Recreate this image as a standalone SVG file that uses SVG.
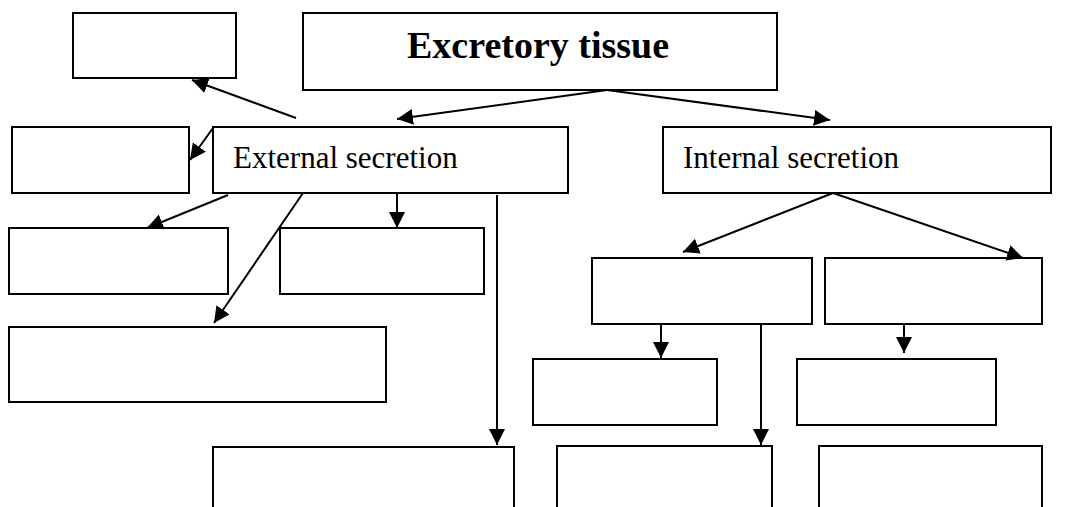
<svg xmlns="http://www.w3.org/2000/svg" width="1067" height="507" viewBox="0 0 1067 507">
<style>
.box{fill:#fff;stroke:#000;stroke-width:2}
.con{stroke:#000;stroke-width:2;fill:none;marker-end:url(#ah)}
.t{font-family:"Liberation Serif","Times New Roman",serif;fill:#000}
</style>
<defs>
<marker id="ah" markerUnits="userSpaceOnUse" markerWidth="18" markerHeight="18" refX="16" refY="8" orient="auto">
<path d="M0,0 L16,8 L0,16 z" fill="#000"/>
</marker>
</defs>
<rect width="1067" height="507" fill="#fff"/>
<g id="nodeA"><rect class="box" x="73" y="13" width="163" height="65"/></g>
<g id="title"><rect class="box" x="303" y="13" width="474" height="77"/><text class="t" x="407" y="58" font-size="38" font-weight="bold">Excretory tissue</text></g>
<g id="nodeB"><rect class="box" x="12" y="127" width="177" height="66"/></g>
<g id="external"><rect class="box" x="213" y="127" width="355" height="66"/><text class="t" x="233" y="168" font-size="31">External secretion</text></g>
<g id="internal"><rect class="box" x="663" y="127" width="388" height="66"/><text class="t" x="683" y="168" font-size="31">Internal secretion</text></g>
<g id="nodeC"><rect class="box" x="9" y="228" width="219" height="66"/></g>
<g id="nodeD"><rect class="box" x="280" y="228" width="204" height="66"/></g>
<g id="nodeE"><rect class="box" x="9" y="327" width="377" height="75"/></g>
<g id="nodeF"><rect class="box" x="213" y="447" width="301" height="80"/></g>
<g id="nodeG"><rect class="box" x="592" y="258" width="220" height="66"/></g>
<g id="nodeH"><rect class="box" x="825" y="258" width="217" height="66"/></g>
<g id="nodeI"><rect class="box" x="533" y="359" width="184" height="66"/></g>
<g id="nodeK"><rect class="box" x="797" y="359" width="199" height="66"/></g>
<g id="nodeJ"><rect class="box" x="557" y="446" width="215" height="80"/></g>
<g id="nodeL"><rect class="box" x="819" y="446" width="223" height="80"/></g>
<g id="connectors">
<line class="con" x1="296" y1="118" x2="192" y2="80"/>
<line class="con" x1="607" y1="90" x2="397" y2="119"/>
<line class="con" x1="607" y1="90" x2="830" y2="120"/>
<line class="con" x1="213" y1="128" x2="190" y2="160"/>
<line class="con" x1="228" y1="195" x2="147" y2="228"/>
<line class="con" x1="397" y1="193" x2="397" y2="228"/>
<line class="con" x1="303" y1="193" x2="214" y2="323"/>
<line class="con" x1="497" y1="195" x2="497" y2="445"/>
<line class="con" x1="833" y1="193" x2="683" y2="252"/>
<line class="con" x1="833" y1="193" x2="1023" y2="258"/>
<line class="con" x1="661" y1="324" x2="661" y2="358"/>
<line class="con" x1="761" y1="324" x2="761" y2="445"/>
<line class="con" x1="904" y1="324" x2="904" y2="353"/>
</g>
</svg>
